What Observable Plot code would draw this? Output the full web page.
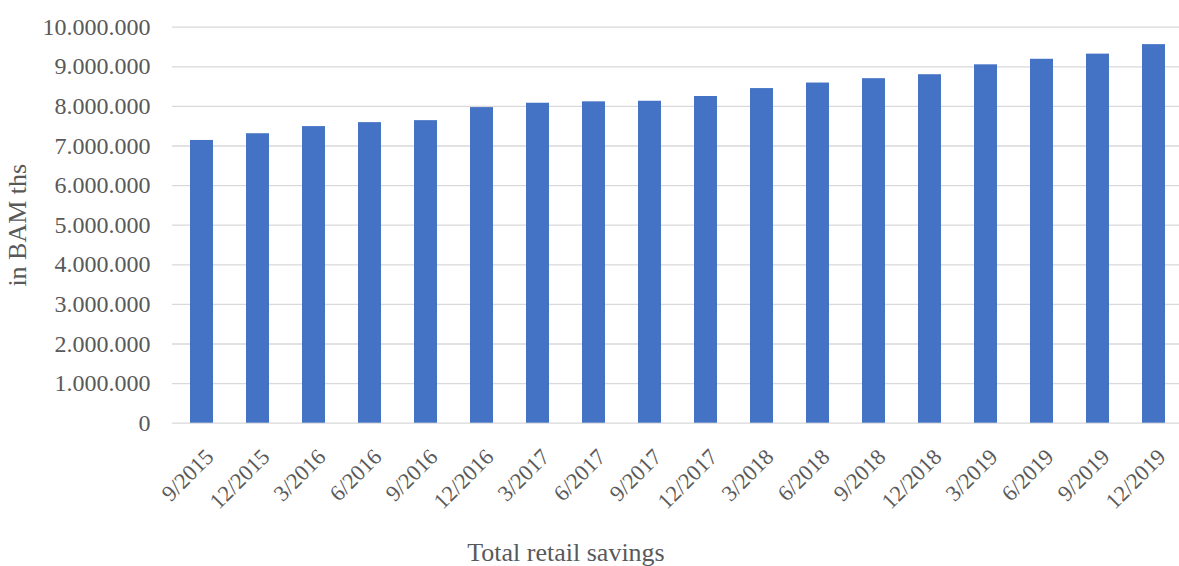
<!DOCTYPE html>
<html>
<head>
<meta charset="utf-8">
<script src="https://cdn.jsdelivr.net/npm/d3@7"></script>
<script src="https://cdn.jsdelivr.net/npm/@observablehq/plot@0.6"></script>
<style>
  html, body { margin: 0; padding: 0; background: #fff; }
  #wrap { position: relative; width: 1179px; height: 566px; overflow: hidden; }
  #caption {
    position: absolute; left: 0; top: 540px; width: 1132px;
    text-align: center; font-family: "Liberation Serif", serif;
    font-size: 26px; line-height: 26px; color: #595959;
  }
</style>
</head>
<body>
<div id="wrap">
  <div id="chart"></div>
  <div id="caption">Total retail savings</div>
</div>
<script>
// Quarterly periods and total retail savings (BAM thousands)
const periods = [
  "9/2015", "12/2015", "3/2016", "6/2016", "9/2016", "12/2016",
  "3/2017", "6/2017", "9/2017", "12/2017", "3/2018", "6/2018",
  "9/2018", "12/2018", "3/2019", "6/2019", "9/2019", "12/2019"
];
const savings = [
  7140000, 7310000, 7490000, 7590000, 7640000, 7970000,
  8080000, 8115000, 8130000, 8250000, 8450000, 8590000,
  8700000, 8800000, 9050000, 9190000, 9320000, 9560000
];
const yTicks = [0, 1000000, 2000000, 3000000, 4000000, 5000000,
  6000000, 7000000, 8000000, 9000000, 10000000];
const yLabel = "in BAM ths";

const data = periods.map((p, i) => ({period: p, value: savings[i]}));

// Dot as thousands separator
const fmt = d3.formatLocale({decimal: ",", thousands: ".", grouping: [3], currency: ["", ""]}).format(",d");

const textColor = "#595959";

const chart = Plot.plot({
  width: 1179,
  height: 530,
  marginTop: 26.7,
  marginBottom: 107.3,
  marginLeft: 172,
  marginRight: 0,
  style: {fontFamily: "Liberation Serif, serif", background: "#fff"},
  x: {
    type: "band",
    domain: periods,
    range: [172, 1183.6],
    paddingInner: 0.59,
    paddingOuter: 0.295,
    axis: null
  },
  y: {domain: [0, 10000000], axis: null},
  marks: [
    Plot.ruleY(yTicks, {stroke: "#d9d9d9", strokeWidth: 1.3}),
    Plot.barY(data, {x: "period", y: "value", fill: "#4472C4"}),
    Plot.axisY({
      ticks: yTicks, tickSize: 0, tickPadding: 22, tickFormat: fmt,
      fontSize: 24, color: textColor, label: null
    }),
    Plot.text(periods, {
      x: d => d, text: d => d, frameAnchor: "bottom", rotate: -45,
      textAnchor: "end", lineAnchor: "bottom", dx: 13, dy: 35,
      fontSize: 22.5, fill: textColor
    }),
    Plot.text([yLabel], {
      text: d => d, frameAnchor: "left", rotate: -90, dx: -155,
      textAnchor: "middle", lineAnchor: "middle",
      fontSize: 26, fill: textColor
    })
  ]
});
document.getElementById("chart").appendChild(chart);
</script>
</body>
</html>
